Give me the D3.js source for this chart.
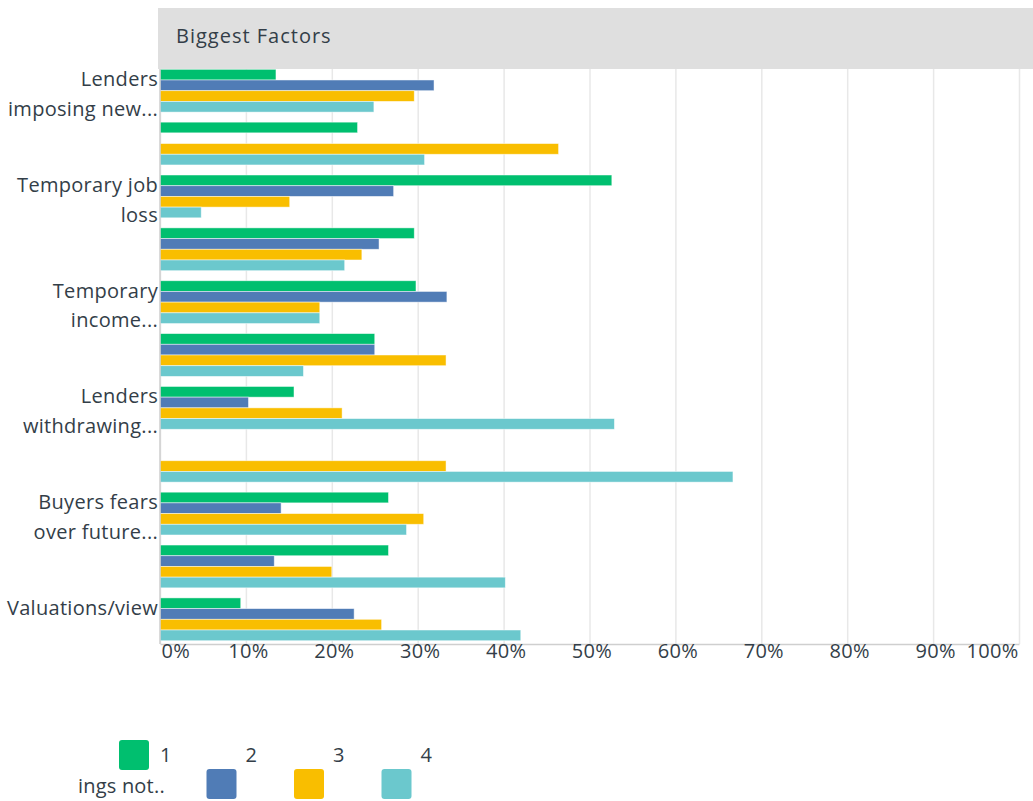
<!DOCTYPE html>
<html>
<head>
<meta charset="utf-8">
<script src="https://cdn.jsdelivr.net/npm/d3@7"></script>
<style>
  body { margin: 0; background: #fff; }
  text { font-family: "Open Sans", sans-serif; fill: #333e48; }
</style>
</head>
<body>
<svg width="1033" height="801"></svg>
<script>
// category labels (only every other one is shown in the original)
const categories = [
    ['Lenders', 'imposing new...'],
    [],
    ['Temporary job', 'loss'],
    [],
    ['Temporary', 'income...'],
    [],
    ['Lenders', 'withdrawing...'],
    [],
    ['Buyers fears', 'over future...'],
    [],
    ['Valuations/view']
];
const seriesNames = ['1', '2', '3', '4'];
const values1 = [13.5, 23.0, 52.6, 29.6, 29.8, 25.0, 15.6, 0, 26.6, 26.6, 9.4];
const values2 = [31.9, 0, 27.2, 25.5, 33.4, 25.0, 10.3, 0, 14.1, 13.3, 22.6];
const values3 = [29.6, 46.4, 15.1, 23.5, 18.6, 33.3, 21.2, 33.3, 30.7, 20.0, 25.8];
const values4 = [24.9, 30.8, 4.8, 21.5, 18.6, 16.7, 52.9, 66.7, 28.7, 40.2, 42.0];
const colors = ['#00bf6f', '#507cb6', '#f9be00', '#6bc8cd'];
const xTicks = [0, 10, 20, 30, 40, 50, 60, 70, 80, 90, 100];
const title = 'Biggest Factors';
const legendExtra = 'ings not..';

const svg = d3.select('svg');
const plotLeft = 160, plotRight = 1019, plotTop = 69, plotBottom = 644;

const x = d3.scaleLinear().domain([0, 100]).range([plotLeft, plotRight]);
const y = d3.scaleBand().domain(d3.range(categories.length))
    .range([64, 646]).paddingInner(0.19).paddingOuter(0.1);
const ySub = d3.scaleBand().domain(seriesNames).range([0, y.bandwidth()]);

// rows: one object per category with the four values
const rows = categories.map((c, i) => ({
    i: i,
    vals: [values1[i], values2[i], values3[i], values4[i]]
}));

drawHeader();
drawGrid();
drawBars();
drawAxes();
drawLegend();

function drawHeader() {
    svg.append('rect')
        .attr('x', 158).attr('y', 8)
        .attr('width', 1033 - 158).attr('height', 61)
        .attr('fill', '#dfdfdf');
    svg.append('text')
        .attr('x', 176).attr('y', 43)
        .style('font-size', '20px')
        .style('letter-spacing', '1px')
        .text(title);
}

function drawGrid() {
    svg.append('g')
        .attr('transform', `translate(0,${plotBottom})`)
        .call(d3.axisBottom(x).tickValues(xTicks).tickSize(-(plotBottom - plotTop)).tickFormat(''))
        .call(g => g.select('.domain').remove())
        .call(g => g.selectAll('line').attr('stroke', '#e8e8e8').attr('stroke-width', 1.5));
}

function drawBars() {
    const groups = svg.append('g').selectAll('g').data(rows)
        .enter().append('g')
        .attr('transform', d => `translate(0,${y(d.i)})`);
    groups.selectAll('rect')
        .data(d => d.vals.map((v, k) => ({k: k, v: v})))
        .enter().append('rect')
        .attr('x', x(0))
        .attr('y', d => ySub(seriesNames[d.k]))
        .attr('width', d => x(d.v) - x(0))
        .attr('height', ySub.bandwidth())
        .attr('fill', d => colors[d.k])
        .attr('stroke', '#fff')
        .attr('stroke-opacity', 0.6)
        .attr('stroke-width', d => d.v > 0 ? 0.8 : 0);
}

function drawAxes() {
    // y axis line
    svg.append('line')
        .attr('x1', plotLeft).attr('x2', plotLeft)
        .attr('y1', plotTop).attr('y2', plotBottom)
        .attr('stroke', '#cfcfcf').attr('stroke-width', 1.5);

    const xa = svg.append('g')
        .attr('transform', `translate(0,${plotBottom})`)
        .call(d3.axisBottom(x).tickValues(xTicks).tickSize(0).tickPadding(0).tickFormat(d => d + '%'));
    xa.select('.domain').attr('stroke', '#cfcfcf').attr('stroke-width', 1.5);
    xa.selectAll('text')
        .style('font-size', '20px')
        .style('font-family', '"Open Sans", sans-serif')
        .style('letter-spacing', '0.3px')
        .attr('fill', '#333e48')
        .attr('text-anchor', d => d === 0 ? 'start' : d === 100 ? 'end' : 'middle')
        .attr('dx', d => d === 0 ? 1 : d === 100 ? -1 : 2);

    // category labels, right aligned against the axis
    const lab = svg.append('g').selectAll('text').data(rows.filter(r => categories[r.i].length))
        .enter().append('text')
        .attr('text-anchor', 'end')
        .style('font-size', '20px')
        .style('letter-spacing', '0.3px')
        .attr('transform', d => `translate(158,${y(d.i)})`);
    lab.selectAll('tspan')
        .data(d => categories[d.i])
        .enter().append('tspan')
        .attr('x', 0)
        .attr('y', (t, k) => 17 + k * 29.5)
        .text(t => t);
}

function drawLegend() {
    const lg = svg.append('g');
    const item = lg.selectAll('g').data(seriesNames)
        .enter().append('g')
        .attr('transform', (d, i) => `translate(${119 + i * 87.5},0)`);
    item.append('rect')
        .attr('y', (d, i) => i === 0 ? 740 : 769)
        .attr('width', 30).attr('height', 30)
        .attr('rx', 3)
        .attr('fill', (d, i) => colors[i]);
    item.append('text')
        .attr('x', (d, i) => i === 0 ? 41 : 39)
        .attr('y', 762)
        .style('font-size', '20px')
        .text(d => d);
    lg.append('text')
        .attr('x', 78).attr('y', 793)
        .style('font-size', '20px')
        .style('letter-spacing', '0.2px')
        .text(legendExtra);
}
</script>
</body>
</html>
